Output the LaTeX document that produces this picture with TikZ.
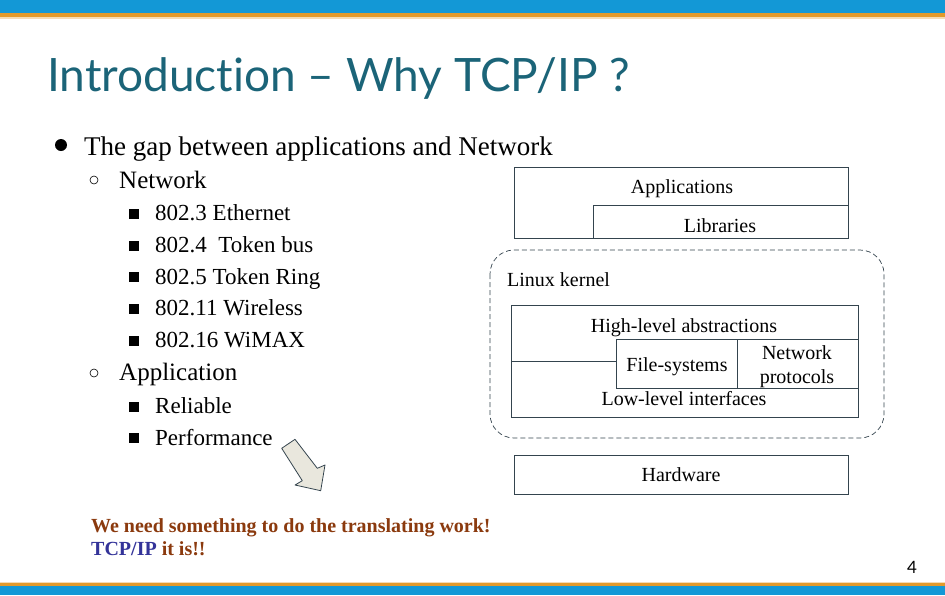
\documentclass[tikz,border=0pt]{standalone}
\usepackage{fontspec}
\setmainfont{Liberation Serif}
\newfontfamily\titlefont[Ligatures={NoCommon}]{Lato}
\definecolor{barblue}{HTML}{1398D6}
\definecolor{barorange}{HTML}{E39A2B}
\definecolor{titleteal}{HTML}{1B6478}
\definecolor{boxline}{HTML}{34444E}
\definecolor{brownish}{HTML}{8B3A0E}
\definecolor{tcpblue}{HTML}{333399}
\definecolor{arrowfill}{HTML}{E9E7DD}
\tikzset{
  lvl1/.style={anchor=base west, inner sep=0pt, font=\fontsize{27}{30}\selectfont},
  lvl2/.style={anchor=base west, inner sep=0pt, font=\fontsize{25}{28}\selectfont},
  lvl3/.style={anchor=base west, inner sep=0pt, font=\fontsize{23}{26}\selectfont},
  dlabel/.style={anchor=base, inner sep=0pt, font=\fontsize{20}{22}\selectfont},
  layer/.style={draw=boxline, line width=0.9pt},
  sq/.style={fill=black, minimum size=10pt, inner sep=0pt},
  hollow/.style={circle, draw=black, line width=0.6pt, minimum size=8pt, inner sep=0pt},
  bottomtext/.style={anchor=base west, inner sep=0pt, font=\fontsize{20}{22}\selectfont\bfseries}
}
\begin{document}
\begin{tikzpicture}[x=1pt,y=-1pt]
\useasboundingbox (0,0) rectangle (945,595);
\fill[white] (0,0) rectangle (945,595);
% top and bottom bars
\fill[barblue] (0,0) rectangle (945,13);
\fill[barorange] (0,13) rectangle (945,17);
\fill[barorange!35] (0,17) rectangle (945,18.5);
\fill[barorange!35] (0,581.5) rectangle (945,583);
\fill[barorange] (0,583) rectangle (945,586);
\fill[barblue] (0,586) rectangle (945,595);
% title
\node[anchor=base west, inner sep=0pt, text=titleteal, font=\titlefont\fontsize{46}{52}\selectfont] (title) at (47,91) {Introduction – Why TCP/IP ?};
% bullets
\node[circle, fill=black, minimum size=12pt, inner sep=0pt] (b1) at (61,145) {};
\node[lvl1] (t1) at (84,155) {The gap between applications and Network};
\node[hollow] (b2) at (94,180) {};
\node[lvl2] (t2) at (119,188) {Network};
\node[sq] (s1) at (134,214) {};
\node[lvl3] (t3) at (155,220) {802.3 Ethernet};
\node[sq] (s2) at (134,246) {};
\node[lvl3] (t4) at (155,252) {802.4\ \ Token bus};
\node[sq] (s3) at (134,277) {};
\node[lvl3] (t5) at (155,284) {802.5 Token Ring};
\node[sq] (s4) at (134,309) {};
\node[lvl3] (t6) at (155,315) {802.11 Wireless};
\node[sq] (s5) at (134,341) {};
\node[lvl3] (t7) at (155,347) {802.16 WiMAX};
\node[hollow] (b3) at (94,373) {};
\node[lvl2] (t8) at (119,380) {Application};
\node[sq] (s6) at (134,407) {};
\node[lvl3] (t9) at (155,413) {Reliable};
\node[sq] (s7) at (134,438) {};
\node[lvl3] (t10) at (155,445) {Performance};
% block arrow
\draw[fill=arrowfill, draw=boxline, line width=0.8pt, line join=round]
  (281.7,448.3) -- (295,439.3) -- (317.3,468.3) -- (325,465) -- (320.7,490.7) -- (295,485) -- (302.3,480.7) -- cycle;
% diagram: user space
\draw[layer] (514,167) rectangle (848,238);
\draw[layer] (593,205) -- (848,205);
\draw[layer] (593,205) -- (593,238);
\node[dlabel] (apps) at (682,193) {Applications};
\node[dlabel] (libs) at (720,232) {Libraries};
% kernel
\draw[boxline, line width=0.7pt, dash pattern=on 5pt off 3pt, rounded corners=24pt] (490,250) rectangle (884,438);
\node[anchor=base west, inner sep=0pt, font=\fontsize{20}{22}\selectfont] (kern) at (507,286) {Linux kernel};
\draw[layer] (511,305) rectangle (858,417);
\draw[layer] (616,339) -- (858,339);
\draw[layer] (616,339) -- (616,388) -- (858,388);
\draw[layer] (737,339) -- (737,388);
\draw[layer] (511,361) -- (616,361);
\node[dlabel] (high) at (684,332) {High-level abstractions};
\node[dlabel] (fs) at (677,371) {File-systems};
\node[anchor=center, inner sep=0pt, align=center, font=\fontsize{20}{24}\selectfont] (np) at (797,367) {Network\\protocols};
\node[dlabel] (low) at (684,405) {Low-level interfaces};
% hardware
\draw[layer] (514,455) rectangle (848,494);
\node[dlabel] (hw) at (681,481) {Hardware};
% bottom text
\node[bottomtext, text=brownish] (we) at (91,532) {We need something to do the translating work!};
\node[bottomtext] (tcp) at (91,555) {\textcolor{tcpblue}{TCP/IP} \textcolor{brownish}{it is!!}};
% page number
\node[anchor=base, inner sep=0pt, font=\titlefont\fontsize{17}{20}\selectfont] (pg) at (912,573) {4};
\end{tikzpicture}
\end{document}
